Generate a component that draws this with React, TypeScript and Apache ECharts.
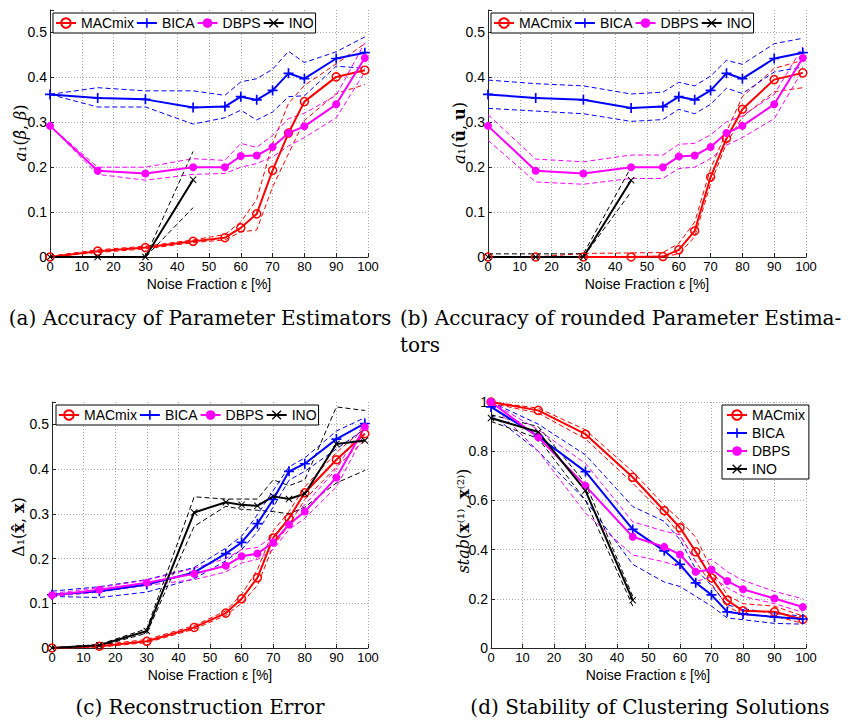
import React, { useEffect, useRef } from "react";
import * as echarts from "echarts";

// ---------- data ----------
const XS = [0, 15, 30, 45, 55, 60, 65, 70, 75, 80, 90, 99];
const METHODS = ["MACmix", "BICA", "DBPS", "INO"];

// (a) Accuracy of Parameter Estimators
const A_MAC = [0, 0.013, 0.021, 0.035, 0.043, 0.065, 0.096, 0.193, 0.276, 0.346, 0.401, 0.416];
const A_MAC_HI = [0.002, 0.016, 0.024, 0.038, 0.05, 0.078, 0.128, 0.253, 0.342, 0.382, 0.43, 0.475];
const A_MAC_LO = [0, 0.01, 0.018, 0.032, 0.038, 0.056, 0.06, 0.156, 0.23, 0.304, 0.364, 0.384];
const A_BICA = [0.362, 0.354, 0.351, 0.333, 0.335, 0.357, 0.35, 0.371, 0.409, 0.397, 0.442, 0.455];
const A_BICA_HI = [0.362, 0.377, 0.37, 0.37, 0.36, 0.39, 0.397, 0.418, 0.458, 0.433, 0.457, 0.49];
const A_BICA_LO = [0.362, 0.334, 0.334, 0.296, 0.31, 0.327, 0.305, 0.323, 0.357, 0.359, 0.425, 0.42];
const A_DBPS = [0.292, 0.192, 0.186, 0.2, 0.2, 0.225, 0.226, 0.245, 0.276, 0.291, 0.34, 0.443];
const A_DBPS_HI = [0.292, 0.2, 0.2, 0.219, 0.215, 0.253, 0.244, 0.271, 0.308, 0.32, 0.36, 0.477];
const A_DBPS_LO = [0.292, 0.184, 0.171, 0.184, 0.186, 0.2, 0.208, 0.223, 0.247, 0.266, 0.31, 0.412];
const A_INO = [0, 0, 0, 0.172];
const A_INO_HI = [0, 0, 0, 0.235];
const A_INO_LO = [0, 0, 0, 0.11];

// (b) Accuracy of rounded Parameter Estimators
const B_MAC = [0, 0, 0, 0, 0.001, 0.016, 0.058, 0.178, 0.264, 0.329, 0.395, 0.41];
const B_MAC_HI = [0, 0, 0.008, 0.009, 0.01, 0.03, 0.078, 0.197, 0.279, 0.357, 0.42, 0.438];
const B_MAC_LO = [0, 0, 0, 0, 0, 0.007, 0.045, 0.163, 0.253, 0.312, 0.368, 0.377];
const B_BICA = [0.362, 0.354, 0.35, 0.332, 0.335, 0.357, 0.35, 0.371, 0.409, 0.397, 0.442, 0.455];
const B_BICA_HI = [0.394, 0.386, 0.381, 0.363, 0.367, 0.389, 0.381, 0.403, 0.438, 0.429, 0.475, 0.487];
const B_BICA_LO = [0.331, 0.325, 0.319, 0.302, 0.306, 0.329, 0.319, 0.34, 0.376, 0.364, 0.412, 0.423];
const B_DBPS = [0.292, 0.192, 0.186, 0.2, 0.2, 0.224, 0.226, 0.245, 0.276, 0.292, 0.34, 0.443];
const B_DBPS_HI = [0.317, 0.218, 0.212, 0.227, 0.227, 0.251, 0.253, 0.272, 0.301, 0.314, 0.362, 0.468];
const B_DBPS_LO = [0.26, 0.167, 0.162, 0.175, 0.175, 0.197, 0.2, 0.219, 0.249, 0.266, 0.308, 0.416];
const B_INO = [0, 0, 0, 0.171];
const B_INO_HI = [0.007, 0.007, 0.007, 0.2];
const B_INO_LO = [0, 0, 0, 0.145];

// (c) Reconstruction Error
const C_MAC = [0, 0.004, 0.015, 0.046, 0.078, 0.11, 0.157, 0.246, 0.29, 0.347, 0.421, 0.479];
const C_MAC_HI = [0.001, 0.007, 0.019, 0.05, 0.083, 0.12, 0.175, 0.262, 0.305, 0.36, 0.437, 0.492];
const C_MAC_LO = [0, 0.002, 0.012, 0.042, 0.073, 0.1, 0.14, 0.228, 0.275, 0.332, 0.405, 0.465];
const C_BICA = [0.119, 0.127, 0.142, 0.169, 0.211, 0.236, 0.278, 0.332, 0.395, 0.412, 0.467, 0.502];
const C_BICA_HI = [0.127, 0.137, 0.153, 0.18, 0.223, 0.25, 0.298, 0.352, 0.405, 0.425, 0.485, 0.515];
const C_BICA_LO = [0.115, 0.113, 0.125, 0.155, 0.195, 0.22, 0.26, 0.315, 0.375, 0.395, 0.445, 0.49];
const C_DBPS = [0.118, 0.13, 0.146, 0.166, 0.184, 0.205, 0.211, 0.236, 0.276, 0.305, 0.381, 0.494];
const C_DBPS_HI = [0.122, 0.135, 0.152, 0.178, 0.2, 0.22, 0.225, 0.25, 0.29, 0.32, 0.4, 0.505];
const C_DBPS_LO = [0.115, 0.125, 0.14, 0.153, 0.17, 0.19, 0.198, 0.22, 0.265, 0.29, 0.36, 0.48];
const C_INO = [0, 0.006, 0.038, 0.303, 0.326, 0.32, 0.318, 0.339, 0.333, 0.345, 0.456, 0.464];
const C_INO_HI = [0, 0.008, 0.043, 0.338, 0.333, 0.333, 0.333, 0.376, 0.363, 0.376, 0.539, 0.531];
const C_INO_LO = [0, 0.004, 0.033, 0.272, 0.317, 0.31, 0.308, 0.305, 0.3, 0.315, 0.369, 0.397];

// (d) Stability of Clustering Solutions
const D_MAC = [1.0, 0.966, 0.869, 0.694, 0.558, 0.489, 0.391, 0.285, 0.194, 0.151, 0.147, 0.116];
const D_MAC_HI = [1.0, 0.975, 0.887, 0.717, 0.58, 0.52, 0.45, 0.32, 0.215, 0.18, 0.17, 0.13];
const D_MAC_LO = [0.995, 0.955, 0.85, 0.67, 0.54, 0.46, 0.35, 0.26, 0.17, 0.135, 0.13, 0.1];
const D_BICA = [0.98, 0.86, 0.717, 0.482, 0.395, 0.34, 0.265, 0.216, 0.147, 0.138, 0.126, 0.118];
const D_BICA_HI = [1.0, 0.91, 0.785, 0.575, 0.515, 0.44, 0.32, 0.255, 0.175, 0.16, 0.14, 0.13];
const D_BICA_LO = [0.95, 0.8, 0.6, 0.34, 0.268, 0.25, 0.21, 0.17, 0.122, 0.115, 0.1, 0.097];
const D_DBPS = [1.0, 0.857, 0.659, 0.452, 0.411, 0.38, 0.31, 0.319, 0.272, 0.239, 0.201, 0.167];
const D_DBPS_HI = [1.0, 0.887, 0.75, 0.513, 0.475, 0.46, 0.35, 0.36, 0.31, 0.275, 0.23, 0.2];
const D_DBPS_LO = [0.99, 0.8, 0.548, 0.378, 0.35, 0.33, 0.27, 0.29, 0.245, 0.21, 0.18, 0.145];
const D_INO = [0.935, 0.878, 0.64, 0.194];
const D_INO_HI = [0.948, 0.9, 0.67, 0.21];
const D_INO_LO = [0.921, 0.852, 0.6, 0.17];

const Y_MAX = [0.55, 0.55, 0.55, 1];
const Y_STEP = [0.1, 0.1, 0.1, 0.2];
const Y_LABEL_MAX = [0.5, 0.5, 0.5, 1];

const X_NAME = "Noise Fraction ε [%]";
const CAPTION_A = "(a) Accuracy of Parameter Estimators";
const CAPTION_B1 = "(b) Accuracy of rounded Parameter Estima-";
const CAPTION_B2 = "tors";
const CAPTION_C = "(c) Reconstruction Error";
const CAPTION_D = "(d) Stability of Clustering Solutions";

const PANELS: Record<string, number[][]>[] = [
  { MACmix: [A_MAC, A_MAC_HI, A_MAC_LO], BICA: [A_BICA, A_BICA_HI, A_BICA_LO], DBPS: [A_DBPS, A_DBPS_HI, A_DBPS_LO], INO: [A_INO, A_INO_HI, A_INO_LO] },
  { MACmix: [B_MAC, B_MAC_HI, B_MAC_LO], BICA: [B_BICA, B_BICA_HI, B_BICA_LO], DBPS: [B_DBPS, B_DBPS_HI, B_DBPS_LO], INO: [B_INO, B_INO_HI, B_INO_LO] },
  { MACmix: [C_MAC, C_MAC_HI, C_MAC_LO], BICA: [C_BICA, C_BICA_HI, C_BICA_LO], DBPS: [C_DBPS, C_DBPS_HI, C_DBPS_LO], INO: [C_INO, C_INO_HI, C_INO_LO] },
  { MACmix: [D_MAC, D_MAC_HI, D_MAC_LO], BICA: [D_BICA, D_BICA_HI, D_BICA_LO], DBPS: [D_DBPS, D_DBPS_HI, D_DBPS_LO], INO: [D_INO, D_INO_HI, D_INO_LO] },
];

// ---------- styles / layout ----------
const COLORS: Record<string, string> = { MACmix: "#ff0000", BICA: "#0000ff", DBPS: "#ff00ff", INO: "#000000" };
const PLUS = "path://M-1,-6H1V-1H6V1H1V6H-1V1H-6V-1H-1Z";
const CROSS = "path://M-5,-4L-4,-5L0,-1L4,-5L5,-4L1,0L5,4L4,5L0,1L-4,5L-5,4L-1,0Z";

const GRIDS = [
  { left: 50, top: 10, width: 318, height: 247 },
  { left: 488, top: 10, width: 318, height: 247 },
  { left: 52, top: 402, width: 316, height: 246 },
  { left: 491, top: 402, width: 315, height: 246 },
];

const SANS = "Liberation Sans, Arial, sans-serif";
const SERIF = "DejaVu Serif, serif";

function zip(ys: number[]) {
  return ys.map((y, i) => [XS[i], y]);
}

function markerFor(m: string) {
  const c = COLORS[m];
  if (m === "MACmix")
    return { symbol: "circle", symbolSize: 8, itemStyle: { color: "rgba(255,255,255,0)", borderColor: c, borderWidth: 1.5 } };
  if (m === "BICA") return { symbol: PLUS, symbolSize: 10, itemStyle: { color: c } };
  if (m === "DBPS") return { symbol: "circle", symbolSize: 8, itemStyle: { color: c } };
  return { symbol: CROSS, symbolSize: 7, itemStyle: { color: c } };
}

function buildOption() {
  const series: any[] = [];
  PANELS.forEach((panel, g) => {
    METHODS.forEach((m) => {
      const [mean, hi, lo] = panel[m];
      [hi, lo].forEach((band, k) => {
        series.push({
          type: "line",
          name: m + (k === 0 ? " upper" : " lower"),
          xAxisIndex: g,
          yAxisIndex: g,
          data: zip(band),
          symbol: "none",
          silent: true,
          z: 2,
          lineStyle: { color: COLORS[m], width: 1, type: [5, 3] },
          emphasis: { disabled: true },
        });
      });
      series.push({
        type: "line",
        name: m,
        xAxisIndex: g,
        yAxisIndex: g,
        data: zip(mean),
        silent: true,
        z: 3,
        lineStyle: { color: COLORS[m], width: 2 },
        emphasis: { disabled: true },
        ...markerFor(m),
      });
    });
  });

  const axisLine = { show: true, onZero: false, lineStyle: { color: "#262626", width: 1 } };
  const axisTick = { show: true, inside: true, length: 4, lineStyle: { color: "#262626" } };
  const splitStyle = { color: "#a8a8a8", width: 1, type: [1, 2] };

  const xAxis = GRIDS.map((_, g) => ({
    type: "value",
    gridIndex: g,
    min: 0,
    max: 100,
    interval: 10,
    axisLine,
    axisTick,
    splitLine: { show: true, lineStyle: splitStyle },
    axisLabel: { fontSize: 13, fontFamily: SANS, color: "#000", margin: 3 },
  }));

  const yAxis = GRIDS.map((_, g) => ({
    type: "value",
    gridIndex: g,
    min: 0,
    max: Y_MAX[g],
    interval: Y_STEP[g],
    axisLine,
    axisTick,
    splitLine: { show: true, showMaxLine: g === 3, lineStyle: splitStyle },
    axisLabel: {
      fontSize: 14,
      fontFamily: SANS,
      color: "#000",
      margin: 3,
      formatter: (v: number) => (v > Y_LABEL_MAX[g] + 1e-9 ? "" : String(Math.round(v * 100) / 100)),
    },
  }));

  const legendCommon = {
    data: METHODS,
    selectedMode: false,
    itemWidth: 20,
    itemHeight: 12,
    padding: [3, 2],
    borderColor: "#000",
    borderWidth: 1,
    backgroundColor: "#fff",
    textStyle: { fontSize: 14, fontFamily: SANS, color: "#000" },
  };
  const legend = [
    { ...legendCommon, orient: "horizontal", left: 53, top: 13, itemGap: 2 },
    { ...legendCommon, orient: "horizontal", left: 491, top: 13, itemGap: 2 },
    { ...legendCommon, orient: "horizontal", left: 56, top: 405, itemGap: 2 },
    { ...legendCommon, orient: "vertical", left: 722, top: 405, itemGap: 4, padding: [3, 4] },
  ];

  const rich = {
    i: { fontFamily: SERIF, fontStyle: "italic", fontSize: 16, color: "#000" },
    n: { fontFamily: SERIF, fontSize: 16, color: "#000" },
    b: { fontFamily: SERIF, fontWeight: "bold", fontSize: 16, color: "#000" },
  };
  const yName = (x: number, y: number, text: string) => ({
    type: "text",
    x,
    y,
    rotation: Math.PI / 2,
    style: { text, rich, align: "center", verticalAlign: "middle", textAlign: "center", textVerticalAlign: "middle", fill: "#000" },
  });
  const plain = (x: number, y: number, text: string, font: string, align = "center") => ({
    type: "text",
    x,
    y,
    style: { text, font, fill: "#000", align, verticalAlign: "middle", textAlign: align, textVerticalAlign: "middle" },
  });
  const xFont = "14px " + SANS;
  const capFont = "20px " + SERIF;

  const graphic = [
    yName(20, 133, "{i|a}{n|₁(}{i|β̂}{n|, }{i|β}{n|)}"),
    yName(459, 133, "{i|a}{n|₁(}{b|û}{n|, }{b|u}{n|)}"),
    yName(18, 527, "{n|Δ₁(}{b|x̂}{n|, }{b|x}{n|)}"),
    yName(463, 521, "{i|stab}{n|(}{b|x}{n|⁽¹⁾, }{b|x}{n|⁽²⁾)}"),
    plain(209, 284, X_NAME, xFont),
    plain(647, 284, X_NAME, xFont),
    plain(210, 675, X_NAME, xFont),
    plain(648, 675, X_NAME, xFont),
    plain(200, 318, CAPTION_A, capFont),
    plain(400, 318, CAPTION_B1, capFont, "left"),
    plain(400, 345, CAPTION_B2, capFont, "left"),
    plain(200, 707, CAPTION_C, capFont),
    plain(650, 707, CAPTION_D, capFont),
  ];

  return {
    animation: false,
    backgroundColor: "#fff",
    grid: GRIDS.map((g) => ({ ...g, containLabel: false, outerBoundsMode: "none" })),
    xAxis,
    yAxis,
    legend,
    series,
    graphic,
  };
}

export default function App() {
  const ref = useRef<HTMLDivElement>(null);
  useEffect(() => {
    document.body.style.margin = "0";
    const chart = echarts.init(ref.current!, null, { renderer: "svg" });
    chart.setOption(buildOption() as any);
    return () => chart.dispose();
  }, []);
  return <div ref={ref} style={{ width: 854, height: 720, background: "#fff" }} />;
}
